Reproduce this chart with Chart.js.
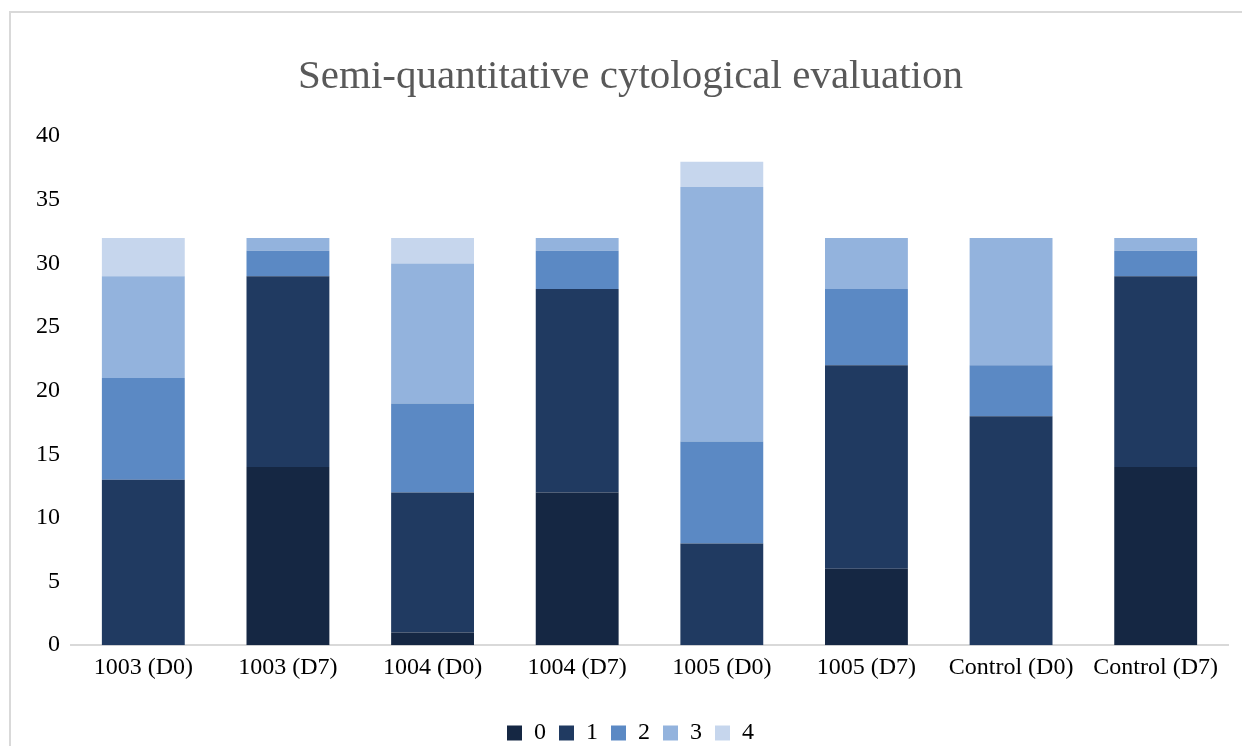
<!DOCTYPE html>
<html>
<head>
<meta charset="utf-8">
<script src="https://cdn.jsdelivr.net/npm/chart.js@4/dist/chart.umd.min.js"></script>
<style>
  html, body { margin: 0; padding: 0; background: #fff; overflow: hidden; }
  #box { position: absolute; left: 9px; top: 11px; width: 1250px; height: 742px;
         border: 2px solid #d9d9d9; background: #fff; }
</style>
</head>
<body>
<div id="box"><canvas id="myChart" width="1250" height="742"></canvas></div>
<script>
const categories = ['1003 (D0)', '1003 (D7)', '1004 (D0)', '1004 (D7)', '1005 (D0)', '1005 (D7)', 'Control (D0)', 'Control (D7)'];
const score0 = [0, 14, 1, 12, 0, 6, 0, 14];
const score1 = [13, 15, 11, 16, 8, 16, 18, 15];
const score2 = [8, 2, 7, 3, 8, 6, 4, 2];
const score3 = [8, 1, 11, 1, 20, 4, 10, 1];
const score4 = [3, 0, 2, 0, 2, 0, 0, 0];
const seriesNames = ['0', '1', '2', '3', '4'];
const colors = ['#152743', '#203a61', '#5b89c4', '#93b3dd', '#c6d6ed'];

const font = 'Liberation Serif';
const ctx = document.getElementById('myChart').getContext('2d');
const myChart = new Chart(ctx, {
   type: 'bar',
   data: {
      labels: categories,
      datasets: [score0, score1, score2, score3, score4].map((d, i) => ({
         label: seriesNames[i],
         data: d,
         backgroundColor: colors[i],
         borderWidth: 0,
         barPercentage: 0.573,
         categoryPercentage: 1
      }))
   },
   options: {
      responsive: false,
      animation: false,
      layout: { padding: { left: 22, right: 33, top: 20, bottom: 0 } },
      plugins: {
         title: {
            display: true,
            text: 'Semi-quantitative cytological evaluation',
            color: '#595959',
            font: { family: font, size: 41, weight: 'normal' },
            padding: { top: 20, bottom: 34 }
         },
         legend: {
            position: 'bottom',
            labels: {
               color: '#000',
               font: { family: font, size: 24 },
               boxWidth: 15,
               boxHeight: 15,
               padding: 13
            }
         },
         tooltip: { enabled: false }
      },
      scales: {
         x: {
            stacked: true,
            grid: { display: false },
            border: { color: '#d9d9d9', width: 2 },
            ticks: { color: '#000', font: { family: font, size: 24 }, maxRotation: 0, padding: 0 },
            afterFit: (scale) => { scale.height += 26; }
         },
         y: {
            stacked: true,
            min: 0,
            max: 40,
            grid: { display: false },
            border: { display: false },
            ticks: { stepSize: 5, color: '#000', font: { family: font, size: 24 }, padding: 3 }
         }
      }
   }
});
</script>
</body>
</html>
